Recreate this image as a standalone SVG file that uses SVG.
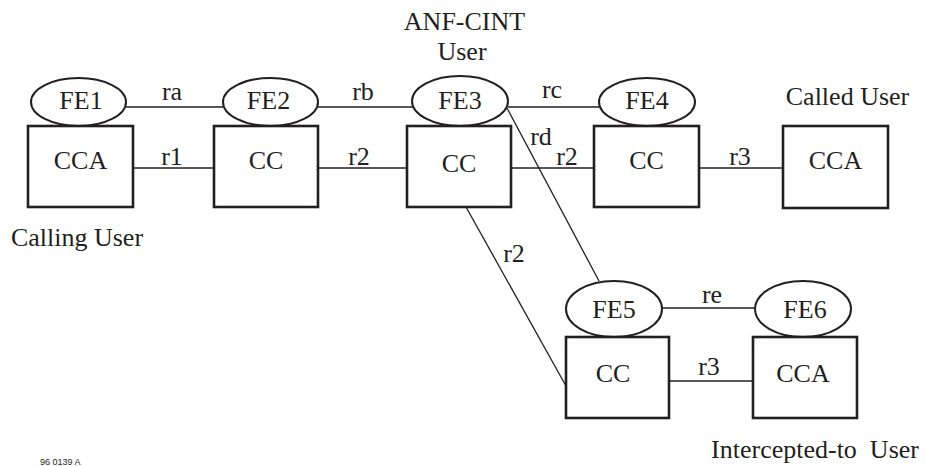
<svg xmlns="http://www.w3.org/2000/svg" width="926" height="466" viewBox="0 0 926 466">
<style>
.box{fill:#fff;stroke:#231f20;stroke-width:2.6}
.el{fill:#fff;stroke:#231f20;stroke-width:2}
.ln{stroke:#231f20;stroke-width:1.3;fill:none}
.t{font-family:'Liberation Serif','Times New Roman',Times,serif;font-size:26px;fill:#231f20;text-anchor:middle}
.sm{font-family:'Liberation Sans',Arial,sans-serif;font-size:9px;fill:#231f20;text-anchor:start}
</style>
<rect width="926" height="466" fill="#fff"/>
<g id="connectors">
<line class="ln" x1="126" y1="107" x2="223" y2="107"/>
<line class="ln" x1="318" y1="107" x2="413" y2="107"/>
<line class="ln" x1="508" y1="107" x2="599" y2="107"/>
<line class="ln" x1="133" y1="168" x2="214" y2="168"/>
<line class="ln" x1="318" y1="168" x2="407" y2="168"/>
<line class="ln" x1="511" y1="168" x2="594" y2="168"/>
<line class="ln" x1="699" y1="168" x2="783" y2="168"/>
<line class="ln" x1="507" y1="108" x2="599" y2="281"/>
<line class="ln" x1="466" y1="207" x2="566" y2="386"/>
<line class="ln" x1="662" y1="308" x2="755" y2="308"/>
<line class="ln" x1="669" y1="381" x2="753" y2="381"/>
<g class="t" font-family="Liberation Serif, Times New Roman, serif">
<text x="172" y="100">ra</text>
<text x="363" y="100">rb</text>
<text x="552" y="98">rc</text>
<text x="172" y="165">r1</text>
<text x="359" y="165">r2</text>
<text x="567" y="165">r2</text>
<text x="740" y="165">r3</text>
<text x="541" y="145">rd</text>
<text x="514" y="262">r2</text>
<text x="712" y="303">re</text>
<text x="709" y="375">r3</text>
</g>
</g>
<g class="t" font-family="Liberation Serif, Times New Roman, serif">
<g id="fe1"><ellipse class="el" cx="78.5" cy="102" rx="47.5" ry="24"/><text x="81" y="109">FE1</text></g>
<g id="cca1"><rect class="box" x="28" y="126" width="105" height="81"/><text x="80.5" y="169">CCA</text></g>
<g id="fe2"><ellipse class="el" cx="270.5" cy="102" rx="47.5" ry="24"/><text x="268.5" y="109">FE2</text></g>
<g id="cc2"><rect class="box" x="214" y="126" width="104" height="81"/><text x="266" y="169">CC</text></g>
<g id="fe3"><ellipse class="el" cx="460" cy="101" rx="48" ry="25"/><text x="460" y="109">FE3</text></g>
<g id="cc3"><rect class="box" x="407" y="126" width="104" height="81"/><text x="459" y="172">CC</text></g>
<g id="fe4"><ellipse class="el" cx="647" cy="102" rx="48" ry="24"/><text x="647" y="109">FE4</text></g>
<g id="cc4"><rect class="box" x="594" y="126" width="105" height="81"/><text x="646.5" y="169">CC</text></g>
<g id="cca4"><rect class="box" x="783" y="126" width="105" height="82"/><text x="835.5" y="169">CCA</text></g>
<g id="fe5"><ellipse class="el" cx="614" cy="309" rx="48" ry="28"/><text x="614" y="318">FE5</text></g>
<g id="cc5"><rect class="box" x="566" y="337" width="103" height="81"/><text x="613" y="382">CC</text></g>
<g id="fe6"><ellipse class="el" cx="803" cy="309" rx="48" ry="28"/><text x="805" y="318">FE6</text></g>
<g id="cca6"><rect class="box" x="753" y="337" width="104" height="81"/><text x="803" y="382">CCA</text></g>
<g id="labels">
<text x="464.5" y="30">ANF-CINT</text>
<text x="462" y="60">User</text>
<text x="847.5" y="105">Called User</text>
<text x="77" y="246">Calling User</text>
<text x="815" y="458" xml:space="preserve">Intercepted-to  User</text>
</g>
</g>
<text class="sm" x="40" y="465">96 0139 A</text>
</svg>
